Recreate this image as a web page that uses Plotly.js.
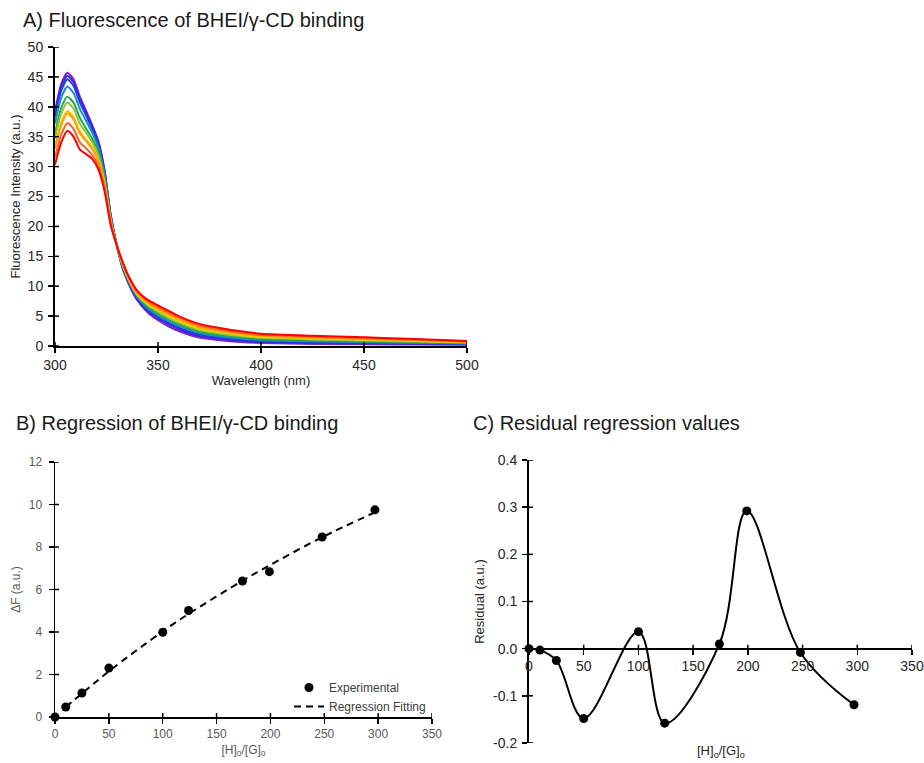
<!DOCTYPE html>
<html>
<head>
<meta charset="utf-8">
<script src="https://cdn.plot.ly/plotly-3.0.1.min.js"></script>
<style>html,body{margin:0;padding:0;background:#fff;}#chart{width:924px;height:763px;}</style>
</head>
<body>
<div id="chart"></div>
<script>
// ---------- Panel A data: emission spectra ----------
const wavelength = [300,303,306,309,312,315,318,321,324,327,330,333,336,340,345,350,355,360,370,380,390,400,425,450,475,500];
const spec0   = [39.3,43.8,45.7,44.6,41.8,39.4,37.0,34.3,29.5,22.0,16.8,12.8,10.2,7.6,5.6,4.3,3.3,2.5,1.4,0.95,0.65,0.5,0.35,0.28,0.24,0.22];
const spec10  = [38.9,43.3,45.2,44.1,41.4,39.1,36.7,34.1,29.3,21.9,16.8,12.9,10.4,7.8,5.8,4.6,3.6,2.8,1.66,1.18,0.85,0.67,0.5,0.41,0.34,0.29];
const spec25  = [38.3,42.7,44.6,43.5,40.8,38.6,36.3,33.8,29.1,21.8,16.8,13.0,10.5,8.0,6.1,4.9,3.9,3.1,1.91,1.41,1.05,0.84,0.65,0.54,0.44,0.36];
const spec50  = [37.2,41.5,43.4,42.3,39.7,37.7,35.7,33.2,28.7,21.6,16.8,13.2,10.7,8.2,6.3,5.1,4.2,3.4,2.17,1.63,1.25,1.02,0.8,0.67,0.54,0.43];
const spec100 = [35.6,39.8,41.7,40.7,38.2,36.4,34.7,32.4,28.1,21.3,16.8,13.3,10.8,8.4,6.6,5.4,4.5,3.7,2.42,1.86,1.45,1.19,0.95,0.8,0.64,0.5];
const spec124 = [34.7,38.8,40.7,39.7,37.2,35.7,34.1,31.9,27.7,21.1,16.8,13.4,10.9,8.5,6.8,5.7,4.7,3.9,2.68,2.09,1.65,1.36,1.1,0.93,0.75,0.57];
const spec174 = [33.4,37.4,39.3,38.3,36.0,34.6,33.3,31.2,27.2,20.9,16.8,13.5,11.0,8.6,7.0,6.0,5.0,4.2,2.93,2.32,1.85,1.53,1.25,1.06,0.85,0.64];
const spec199 = [33.0,36.9,38.9,37.9,35.6,34.3,33.0,31.0,27.0,20.8,16.8,13.7,11.2,8.8,7.2,6.2,5.3,4.5,3.19,2.54,2.05,1.71,1.4,1.19,0.95,0.71];
const spec248 = [31.5,35.3,37.3,36.3,34.1,33.1,32.0,30.2,26.5,20.5,16.8,13.8,11.3,9.0,7.5,6.5,5.6,4.8,3.44,2.77,2.25,1.88,1.55,1.32,1.05,0.78];
const spec297 = [30.3,34.0,36.0,35.0,32.9,32.1,31.3,29.6,26.0,20.3,16.8,13.9,11.5,9.2,7.7,6.8,5.9,5.0,3.7,3.0,2.45,2.05,1.7,1.45,1.15,0.85];
const spectra = [spec0,spec10,spec25,spec50,spec100,spec124,spec174,spec199,spec248,spec297];
const spectraColors = ['#7b2cbf','#4a22d8','#1f3cf0','#1b8fb5','#22a84a','#8cc63f','#efcf00','#ffa000','#ff6222','#ff0000'];

// ---------- Panel B data ----------
const ratio = [0,10,25,50,100,124,174,199,248,297];
const deltaF = [0,0.47,1.13,2.30,3.99,5.01,6.40,6.84,8.47,9.75];
const fitRatio = [10,25,50,100,124,174,199,248,297];
const fitDeltaF = [0.47,1.10,2.15,4.03,4.85,6.41,7.13,8.46,9.63];

// ---------- Panel C data ----------
const residual = [0,-0.003,-0.025,-0.148,0.036,-0.158,0.010,0.292,-0.008,-0.119];

// ---------- tick labels ----------
const ticksWl = [300,350,400,450,500];
const ticksFl = [0,5,10,15,20,25,30,35,40,45,50];
const ticksRatio = [0,50,100,150,200,250,300,350];
const ticksDF = [0,2,4,6,8,10,12];
const ticksRes = [-0.2,-0.1,0,0.1,0.2,0.3,0.4];
const ticksResText = ['-0.2','-0.1','0.0','0.1','0.2','0.3','0.4'];

const FONT = 'Arial, "Liberation Sans", sans-serif';
const W = 924, H = 763;
const px = v => v / W;
const py = v => 1 - v / H;

// domains (paper)
const domA = {x:[px(55), px(467)], y:[py(346), py(47)]};
const domB = {x:[px(55), px(432)], y:[py(717), py(462)]};
const domC = {x:[px(529), px(912)], y:[py(743), py(460)]};
const rangeC = [-0.2, 0.4];
const posC0 = domC.y[0] + (0 - rangeC[0]) / (rangeC[1] - rangeC[0]) * (domC.y[1] - domC.y[0]);

const traces = [];
spectra.forEach((s, i) => {
  traces.push({x: wavelength, y: s, type:'scatter', mode:'lines', xaxis:'x', yaxis:'y',
    line:{color: spectraColors[i], width:2, shape:'spline', smoothing:0.6},
    showlegend:false, hoverinfo:'skip'});
});
traces.push({x: fitRatio, y: fitDeltaF, type:'scatter', mode:'lines', name:'Regression Fitting',
  xaxis:'x2', yaxis:'y2', line:{color:'#000', width:2, dash:'7px,5px', shape:'spline'}, cliponaxis:false});
traces.push({x: ratio, y: deltaF, type:'scatter', mode:'markers', name:'Experimental',
  xaxis:'x2', yaxis:'y2', marker:{color:'#000', size:9}, cliponaxis:false});
traces.push({x: ratio, y: residual, type:'scatter', mode:'lines+markers', xaxis:'x3', yaxis:'y3',
  line:{color:'#000', width:2, shape:'spline', smoothing:1}, marker:{color:'#000', size:9},
  showlegend:false, cliponaxis:false});

function axis(o) {
  return Object.assign({showgrid:false, zeroline:false, showline:true, linecolor:'#000', linewidth:2,
    ticks:'outside', ticklen:5, tickwidth:1.5, tickcolor:'#000', tickmode:'array', fixedrange:true}, o);
}

// inner halves of the crossing tick marks, placed at the axes' tick values
const shapes = [];
function innerX(xref, yref, vals, yAt) {
  vals.forEach(v => shapes.push({type:'line', xref:xref, yref:yref, x0:v, x1:v,
    ysizemode:'pixel', yanchor:yAt, y0:0, y1:4, line:{color:'#000', width:1.5}, layer:'above'}));
}
function innerY(xref, yref, vals, xAt) {
  vals.forEach(v => shapes.push({type:'line', xref:xref, yref:yref, y0:v, y1:v,
    xsizemode:'pixel', xanchor:xAt, x0:0, x1:4, line:{color:'#000', width:1.5}, layer:'above'}));
}
innerX('x', 'y', ticksWl, 0);
innerY('x', 'y', ticksFl, 300);
innerX('x2', 'y2', ticksRatio, 0);
innerY('x2', 'y2', ticksDF, 0);
innerX('x3', 'y3', ticksRatio, 0);
innerY('x3', 'y3', ticksRes, 0);

const fA = {family:FONT, size:14, color:'#262626'};
const fB = {family:FONT, size:12, color:'#595959'};
const fC = {family:FONT, size:14, color:'#262626'};

const layout = {
  width:W, height:H, margin:{l:0,r:0,t:0,b:0}, paper_bgcolor:'#fff', plot_bgcolor:'rgba(0,0,0,0)',
  font:{family:FONT},
  xaxis: axis({domain:domA.x, anchor:'y', range:[300,500], tickvals:ticksWl, ticktext:ticksWl.map(String), tickfont:fA,
    title:{text:'Wavelength (nm)', font:{family:FONT, size:13, color:'#262626'}, standoff:2}}),
  yaxis: axis({domain:domA.y, anchor:'x', range:[0,50], tickvals:ticksFl, ticktext:ticksFl.map(String), tickfont:fA,
    ticklabelstandoff:2,
    title:{text:'Fluorescence Intensity (a.u.)', font:{family:FONT, size:13, color:'#262626'}, standoff:4}}),

  xaxis2: axis({domain:domB.x, anchor:'y2', range:[0,350], tickvals:ticksRatio, ticktext:ticksRatio.map(String), tickfont:fB,
    linewidth:1.5, title:{text:'[H]<sub>o</sub>/[G]<sub>o</sub>', font:{family:FONT, size:12, color:'#595959'}, standoff:5}}),
  yaxis2: axis({domain:domB.y, anchor:'x2', range:[0,12], tickvals:ticksDF, ticktext:ticksDF.map(String), tickfont:fB,
    linewidth:1.5, ticklabelstandoff:4,
    title:{text:'ΔF (a.u.)', font:{family:FONT, size:12, color:'#595959'}, standoff:5}}),

  xaxis3: axis({domain:domC.x, anchor:'free', position:posC0, range:[0,350], tickvals:ticksRatio, ticktext:ticksRatio.map(String), tickfont:fC}),
  yaxis3: axis({domain:domC.y, anchor:'x3', range:rangeC, tickvals:ticksRes, ticktext:ticksResText, tickfont:fC,
    ticklabelstandoff:2,
    title:{text:'Residual (a.u.)', font:{family:FONT, size:13, color:'#262626'}, standoff:6}}),

  shapes: shapes,
  showlegend:true,
  legend:{x:px(289), y:py(673), xanchor:'left', yanchor:'top', bgcolor:'rgba(0,0,0,0)',
    font:{family:FONT, size:12, color:'#404040'}, traceorder:'reversed', tracegroupgap:0, itemwidth:30},

  annotations:[
    {text:'A) Fluorescence of BHEI/γ-CD binding', xref:'paper', yref:'paper', x:px(21), y:py(20), xanchor:'left', yanchor:'middle',
      showarrow:false, font:{family:FONT, size:20, color:'#1a1a1a'}},
    {text:'B) Regression of BHEI/γ-CD binding', xref:'paper', yref:'paper', x:px(14), y:py(423), xanchor:'left', yanchor:'middle',
      showarrow:false, font:{family:FONT, size:20, color:'#1a1a1a'}},
    {text:'C) Residual regression values', xref:'paper', yref:'paper', x:px(471), y:py(423), xanchor:'left', yanchor:'middle',
      showarrow:false, font:{family:FONT, size:20, color:'#1a1a1a'}},
    {text:'[H]<sub>o</sub>/[G]<sub>o</sub>', xref:'paper', yref:'paper', x:(domC.x[0]+domC.x[1])/2, y:py(751), xanchor:'center', yanchor:'middle',
      showarrow:false, font:{family:FONT, size:13, color:'#262626'}}
  ]
};

Plotly.newPlot('chart', traces, layout, {displayModeBar:false, staticPlot:true});
</script>
</body>
</html>
